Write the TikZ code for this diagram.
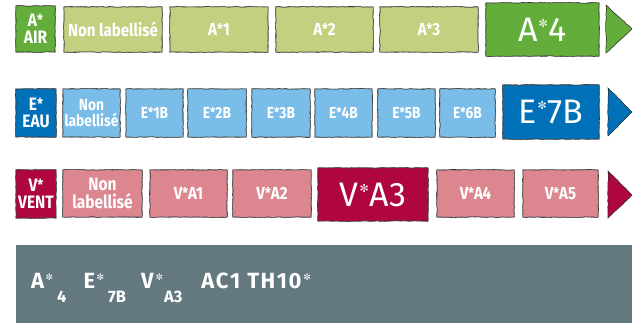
\documentclass[tikz,border=0pt]{standalone}
\usepackage{fontspec}
\setmainfont{Fira Sans}
\newfontfamily\cond{Fira Sans}[FakeStretch=0.86]
\newfontfamily\sym{DejaVu Sans}
\usetikzlibrary{decorations.pathmorphing}
\definecolor{agreen}{HTML}{63AE3A}
\definecolor{lgreen}{HTML}{C4D080}
\definecolor{ablue}{HTML}{0070B8}
\definecolor{lblue}{HTML}{7ABDE8}
\definecolor{vred}{HTML}{B0063E}
\definecolor{lpink}{HTML}{DC8790}
\definecolor{band}{HTML}{647880}
\definecolor{ink}{HTML}{2A2A2A}
\tikzset{
  sk/.style={draw=ink, line width=0.55pt, decorate,
    decoration={random steps, segment length=3.5pt, amplitude=0.45pt}},
  skb/.style={draw=ink!80, line width=0.4pt, decorate,
    decoration={random steps, segment length=5pt, amplitude=0.6pt}},
  cell/.style={inner sep=0pt, text=white, align=center},
  small/.style={font=\cond\bfseries\fontsize{17.5}{17.5}\selectfont},
  smallb/.style={font=\cond\bfseries\fontsize{16}{16}\selectfont},
  smallv/.style={font=\cond\bfseries\fontsize{17.5}{17.5}\selectfont},
  nl2/.style={font=\cond\bfseries\fontsize{16}{16}\selectfont},
  nl3/.style={font=\cond\bfseries\fontsize{18}{18}\selectfont},
  side/.style={font=\cond\bfseries\fontsize{18}{17}\selectfont},
  big/.style={font=\fontsize{34}{34}\selectfont},
}
\newcommand\st{\raisebox{1.5pt}{\scalebox{0.85}{*}}}
\newcommand\bst{\kern1pt\raisebox{14pt}{\sym\fontsize{11}{11}\selectfont ✼}\kern1pt}
\newcommand\sst{\raisebox{7.5pt}{\sym\fontsize{9}{9}\selectfont ✼}}
\newcommand\cellbox[8][]{%
  \node[cell, fill=#7, minimum width={#5-#3}, minimum height={#6-#4}, #1]
    (#2) at ({(#3+#5)/2},{(#4+#6)/2}) {#8};
  \draw[sk] (#2.north west) rectangle (#2.south east);
  \draw[skb] (#2.north west) rectangle (#2.south east);
}
\begin{document}
\begin{tikzpicture}[x=1pt,y=-1pt]
\pgfmathsetseed{7}
\useasboundingbox[fill=white] (0,0) rectangle (632,323);
% Row AIR
\cellbox[side]{aL}{16}{6}{55}{52}{agreen}{A\st\\AIR}
\cellbox[small]{a0}{64}{7}{162}{52}{lgreen}{Non labellisé}
\cellbox[small]{a1}{170}{7}{268}{52}{lgreen}{A\st 1}
\cellbox[small]{a2}{276}{7}{373}{52}{lgreen}{A\st 2}
\cellbox[small]{a3}{380}{7}{478}{52}{lgreen}{A\st 3}
\cellbox[big]{a4}{486}{3}{599}{56}{agreen}{A\bst 4}
\fill[agreen] (606,5) -- (632,29) -- (606,53) -- cycle;
\draw[sk] (606,5) -- (632,29) -- (606,53) -- cycle;
% Row EAU
\cellbox[side]{eL}{16}{89}{56}{137}{ablue}{E\st\\EAU}
\cellbox[nl2]{e0}{63}{89}{120}{137}{lblue}{Non\\labellisé}
\cellbox[smallb]{e1}{126}{89}{183}{137}{lblue}{E\st 1B}
\cellbox[smallb]{e2}{188}{89}{246}{137}{lblue}{E\st 2B}
\cellbox[smallb]{e3}{252}{89}{310}{137}{lblue}{E\st 3B}
\cellbox[smallb]{e4}{315}{89}{372}{137}{lblue}{E\st 4B}
\cellbox[smallb]{e5}{378}{89}{435}{137}{lblue}{E\st 5B}
\cellbox[smallb]{e6}{440}{89}{495}{137}{lblue}{E\st 6B}
\cellbox[big]{e7}{503}{85}{599}{139}{ablue}{E\bst 7B}
\fill[ablue] (608,88) -- (632,112) -- (608,136) -- cycle;
\draw[sk] (608,88) -- (632,112) -- (608,136) -- cycle;
% Row VENT
\cellbox[side]{vL}{16}{170}{56}{218}{vred}{V\st\\VENT}
\cellbox[nl3]{v0}{63}{170}{142}{217}{lpink}{Non\\labellisé}
\cellbox[smallv]{v1}{150}{170}{227}{217}{lpink}{V\st A1}
\cellbox[smallv]{v2}{233}{170}{311}{217}{lpink}{V\st A2}
\cellbox[big]{v3}{318}{168}{428}{221}{vred}{V\bst A3}
\cellbox[smallv]{v4}{437}{170}{514}{217}{lpink}{V\st A4}
\cellbox[smallv]{v5}{523}{170}{598}{217}{lpink}{V\st A5}
\fill[vred] (608,171) -- (632,195) -- (608,218) -- cycle;
\draw[sk] (608,171) -- (632,195) -- (608,218) -- cycle;
% Band
\fill[band] (16,245) rectangle (632,323);
\node[anchor=base west, inner sep=0pt, text=white,
  font=\bfseries\fontsize{22}{22}\selectfont] (label) at (31,288)
  {A\kern1.5pt\sst\kern4pt\raisebox{-14pt}{\fontsize{16.5}{16.5}\selectfont 4}\kern17pt
   E\kern1.5pt\sst\kern4pt\raisebox{-14pt}{\fontsize{16.5}{16.5}\selectfont 7B}\kern15pt
   V\kern2pt\sst\kern1pt\raisebox{-14pt}{\fontsize{16.5}{16.5}\selectfont A3}\kern19pt
   A\kern1.5pt C\kern1.5pt 1\kern7pt T\kern1.5pt H\kern1.5pt 1\kern1.5pt 0\kern2pt\sst};
\end{tikzpicture}
\end{document}
